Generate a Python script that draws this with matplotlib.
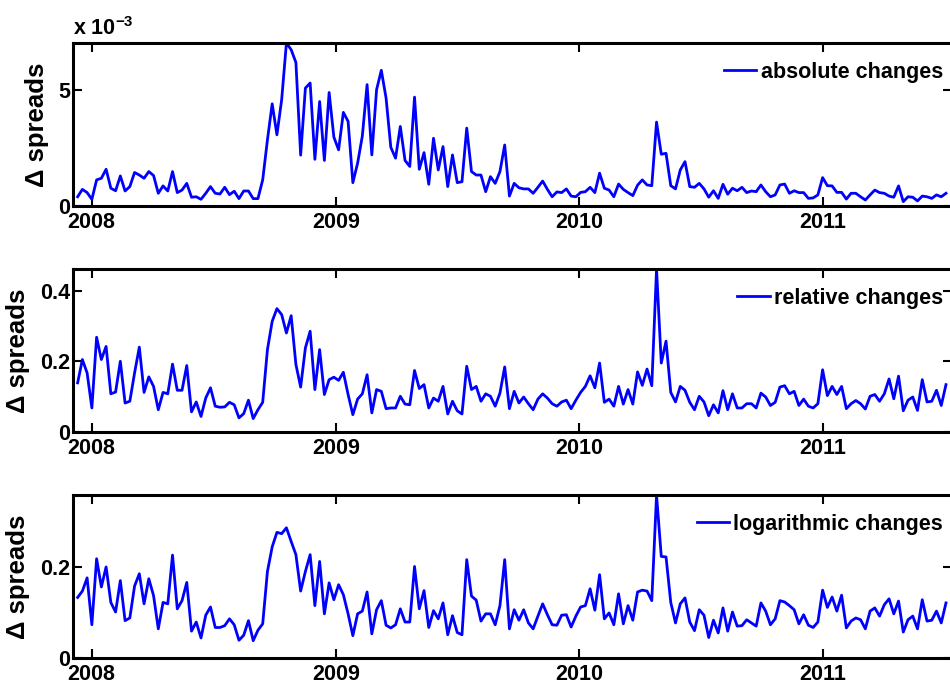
import numpy as np
import pandas as pd
import matplotlib
matplotlib.use('Agg')
import matplotlib.pyplot as plt
import matplotlib.dates as mdates
from matplotlib.ticker import FixedLocator, FuncFormatter

plt.rcParams['font.family'] = ['Liberation Sans', 'DejaVu Sans']
plt.rcParams['font.weight'] = 'bold'
plt.rcParams['mathtext.fontset'] = 'custom'
plt.rcParams['mathtext.rm'] = 'Liberation Sans:bold'
plt.rcParams['mathtext.default'] = 'rm'

# weekly spread changes, Dec 2007 - Jul 2011
abs_changes = np.array([
    0.40, 0.72, 0.58, 0.29, 1.13, 1.20, 1.59, 0.77, 0.66, 1.30,
    0.65, 0.84, 1.45, 1.34, 1.20, 1.49, 1.32, 0.55, 0.87, 0.65,
    1.49, 0.58, 0.69, 0.98, 0.38, 0.40, 0.29, 0.55, 0.84, 0.55,
    0.52, 0.81, 0.49, 0.64, 0.32, 0.65, 0.65, 0.32, 0.32, 1.13,
    2.86, 4.42, 3.08, 4.60, 7.05, 6.76, 6.21, 2.20, 5.10, 5.32,
    2.02, 4.52, 1.97, 4.91, 2.98, 2.43, 4.05, 3.66, 1.01, 1.85,
    3.03, 5.25, 2.21, 5.03, 5.87, 4.67, 2.54, 2.07, 3.44, 1.97,
    1.71, 4.71, 1.59, 2.31, 0.94, 2.93, 1.56, 2.57, 0.84, 2.21,
    1.01, 1.05, 3.37,
    1.49, 1.34, 1.34, 0.62, 1.27, 0.98, 1.49, 2.64, 0.43, 0.98,
    0.79, 0.74, 0.74, 0.55, 0.81, 1.08, 0.72, 0.40, 0.61, 0.58,
    0.74, 0.43, 0.40, 0.59, 0.62, 0.81, 0.58, 1.42, 0.77, 0.69,
    0.40, 0.95, 0.72, 0.58, 0.45, 0.90, 1.13, 0.91, 0.88, 3.63,
    2.24, 2.28, 0.88, 0.74, 1.56, 1.92, 0.84, 0.81, 0.98, 0.74,
    0.38, 0.66, 0.33, 0.94, 0.51, 0.77, 0.66, 0.81, 0.58, 0.65,
    0.62, 0.91, 0.62, 0.40, 0.48, 0.91, 0.95, 0.55, 0.66, 0.58,
    0.58, 0.33, 0.35, 0.48, 1.23, 0.88, 0.87, 0.59, 0.59, 0.30,
    0.55, 0.55, 0.40, 0.26, 0.48, 0.69, 0.58, 0.55, 0.43, 0.38,
    0.87, 0.19, 0.40, 0.38, 0.22, 0.43, 0.40, 0.33, 0.48, 0.40,
    0.55,
]) * 1e-3

rel_changes = np.array([
    0.139, 0.205, 0.167, 0.068, 0.268, 0.205, 0.242, 0.108, 0.113, 0.200,
    0.082, 0.087, 0.167, 0.240, 0.112, 0.156, 0.129, 0.063, 0.112, 0.108,
    0.192, 0.118, 0.118, 0.188, 0.057, 0.085, 0.044, 0.096, 0.125, 0.073,
    0.070, 0.071, 0.084, 0.077, 0.040, 0.052, 0.090, 0.038, 0.063, 0.084,
    0.233, 0.313, 0.349, 0.332, 0.280, 0.329, 0.191, 0.127, 0.238, 0.285,
    0.120, 0.233, 0.106, 0.148, 0.155, 0.146, 0.169, 0.106, 0.049, 0.093,
    0.108, 0.162, 0.054, 0.120, 0.115, 0.066, 0.068, 0.068, 0.101, 0.079,
    0.077, 0.174, 0.123, 0.134, 0.068, 0.096, 0.087, 0.129, 0.051, 0.087,
    0.060, 0.051, 0.186,
    0.120, 0.129, 0.087, 0.108, 0.101, 0.073, 0.110, 0.184, 0.066, 0.115,
    0.082, 0.099, 0.080, 0.063, 0.093, 0.108, 0.096, 0.080, 0.073, 0.085,
    0.090, 0.066, 0.090, 0.112, 0.129, 0.159, 0.125, 0.195, 0.084, 0.093,
    0.073, 0.129, 0.079, 0.120, 0.079, 0.170, 0.132, 0.178, 0.131, 0.461,
    0.195, 0.257, 0.112, 0.085, 0.129, 0.118, 0.084, 0.063, 0.101, 0.085,
    0.046, 0.077, 0.054, 0.117, 0.063, 0.108, 0.068, 0.068, 0.080, 0.080,
    0.068, 0.110, 0.099, 0.075, 0.084, 0.127, 0.131, 0.108, 0.115, 0.075,
    0.093, 0.073, 0.068, 0.080, 0.176, 0.103, 0.129, 0.106, 0.129, 0.066,
    0.080, 0.089, 0.080, 0.065, 0.101, 0.106, 0.087, 0.108, 0.150, 0.094,
    0.158, 0.060, 0.090, 0.099, 0.061, 0.148, 0.085, 0.087, 0.118, 0.075,
    0.134,
])

log_changes = np.array([
    0.133, 0.147, 0.176, 0.073, 0.218, 0.156, 0.200, 0.122, 0.101, 0.170,
    0.082, 0.088, 0.158, 0.185, 0.119, 0.174, 0.137, 0.064, 0.122, 0.119,
    0.226, 0.108, 0.126, 0.166, 0.059, 0.079, 0.044, 0.094, 0.112, 0.067,
    0.067, 0.071, 0.086, 0.073, 0.039, 0.050, 0.082, 0.038, 0.061, 0.075,
    0.190, 0.244, 0.276, 0.273, 0.286, 0.256, 0.227, 0.147, 0.190, 0.227,
    0.115, 0.212, 0.097, 0.165, 0.128, 0.161, 0.139, 0.097, 0.049, 0.097,
    0.103, 0.145, 0.053, 0.106, 0.126, 0.072, 0.066, 0.073, 0.108, 0.079,
    0.079, 0.201, 0.108, 0.148, 0.067, 0.104, 0.086, 0.121, 0.051, 0.093,
    0.056, 0.051, 0.216,
    0.136, 0.127, 0.081, 0.097, 0.097, 0.073, 0.115, 0.216, 0.064, 0.106,
    0.083, 0.106, 0.077, 0.064, 0.092, 0.119, 0.095, 0.073, 0.072, 0.094,
    0.095, 0.068, 0.092, 0.112, 0.115, 0.152, 0.105, 0.183, 0.086, 0.099,
    0.073, 0.141, 0.075, 0.115, 0.083, 0.145, 0.149, 0.147, 0.126, 0.358,
    0.223, 0.222, 0.122, 0.077, 0.119, 0.132, 0.079, 0.060, 0.106, 0.094,
    0.045, 0.083, 0.055, 0.110, 0.059, 0.101, 0.070, 0.071, 0.084, 0.077,
    0.070, 0.121, 0.103, 0.073, 0.086, 0.126, 0.123, 0.115, 0.106, 0.075,
    0.095, 0.072, 0.067, 0.079, 0.149, 0.111, 0.134, 0.103, 0.138, 0.066,
    0.081, 0.088, 0.084, 0.064, 0.103, 0.110, 0.092, 0.117, 0.130, 0.097,
    0.125, 0.057, 0.084, 0.092, 0.064, 0.128, 0.081, 0.083, 0.103, 0.077,
    0.121,
])

dates = pd.date_range('2007-12-11', '2011-07-05', periods=len(abs_changes))

labels = ['absolute changes', 'relative changes', 'logarithmic changes']
yticks = [[0, 5e-3], [0, 0.2, 0.4], [0, 0.2]]
series = [abs_changes, rel_changes, log_changes]
bottoms = [0.7040, 0.3793, 0.0546]
# ylabel sits left of the widest tick label in each panel
label_x = [-0.027, -0.049, -0.049]

fig = plt.figure(figsize=(9.5, 6.96), dpi=100)

for vals, lab, yt, b, lx in zip(series, labels, yticks, bottoms, label_x):
    ax = fig.add_axes([0.0768, b, 0.9253, 0.2342])
    ax.plot(dates, vals, color=(0, 0, 1), lw=2.0, label=lab)
    ax.set_xlim(pd.Timestamp('2007-12-04'), pd.Timestamp('2011-07-14'))
    ax.set_ylim(0, vals.max())
    ax.xaxis.set_major_locator(mdates.YearLocator())
    ax.xaxis.set_major_formatter(mdates.DateFormatter('%Y'))
    ax.yaxis.set_major_locator(FixedLocator(yt))
    if lab == 'absolute changes':
        ax.yaxis.set_major_formatter(FuncFormatter(lambda v, p: '%g' % round(v * 1e3, 6)))
        ax.text(0, 1.049, 'x 10$^{-3}$', transform=ax.transAxes,
                fontsize=15.5, va='baseline', ha='left')
    else:
        ax.yaxis.set_major_formatter(FuncFormatter(lambda v, p: '%g' % round(v, 6)))
    ax.tick_params(direction='in', length=6.5, width=1.5, top=True, right=True,
                   labelsize=15.5)
    ax.tick_params(axis='y', pad=2)
    ax.tick_params(axis='x', pad=4)
    for s in ax.spines.values():
        s.set_linewidth(2.2)
    ax.set_ylabel('Δ spreads', fontsize=18.5, fontweight='bold')
    ax.yaxis.set_label_coords(lx, 0.5)
    ax.legend(loc='upper right', bbox_to_anchor=(0.9898, 0.885), frameon=False,
              borderpad=0, borderaxespad=0, handlelength=1.5, handletextpad=0.2,
              prop={'size': 15.5, 'weight': 'bold'})

fig.savefig('out.png', dpi=100)
